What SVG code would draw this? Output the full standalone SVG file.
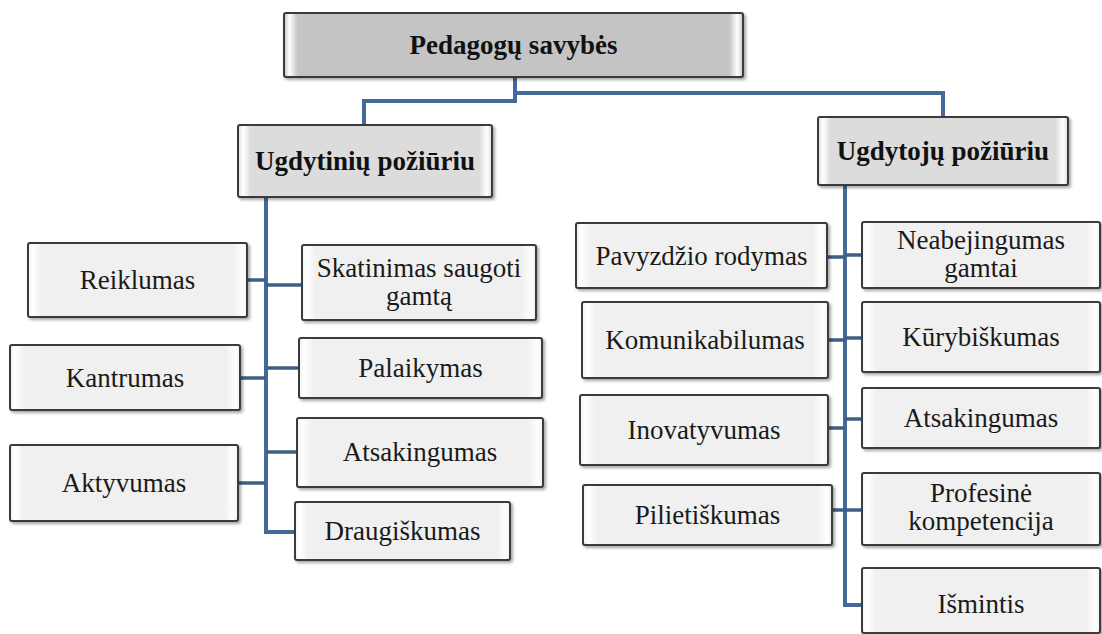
<svg xmlns="http://www.w3.org/2000/svg" width="1102" height="634" viewBox="0 0 1102 634">
<defs>
<linearGradient id="gTop" x1="0" y1="0" x2="1" y2="0">
<stop offset="0" stop-color="#c4c4c4"/><stop offset="0.012" stop-color="#ffffff"/><stop offset="0.03" stop-color="#c4c4c4"/><stop offset="0.97" stop-color="#c4c4c4"/><stop offset="0.988" stop-color="#ffffff"/><stop offset="1" stop-color="#c4c4c4"/>
</linearGradient>
<linearGradient id="gSub" x1="0" y1="0" x2="1" y2="0">
<stop offset="0" stop-color="#dcdcdc"/><stop offset="0.02" stop-color="#ffffff"/><stop offset="0.05" stop-color="#dcdcdc"/><stop offset="0.95" stop-color="#dcdcdc"/><stop offset="0.98" stop-color="#ffffff"/><stop offset="1" stop-color="#dcdcdc"/>
</linearGradient>
<linearGradient id="gLeaf" x1="0" y1="0" x2="1" y2="0">
<stop offset="0" stop-color="#f0f0f0"/><stop offset="0.02" stop-color="#ffffff"/><stop offset="0.06" stop-color="#f0f0f0"/><stop offset="0.94" stop-color="#f0f0f0"/><stop offset="0.98" stop-color="#ffffff"/><stop offset="1" stop-color="#f0f0f0"/>
</linearGradient>
<filter id="sh" x="-10%" y="-20%" width="120%" height="150%">
<feDropShadow dx="2" dy="2" stdDeviation="1.5" flood-color="#000" flood-opacity="0.35"/>
</filter>
</defs>
<style>
.box{stroke:#3a3a3a;stroke-width:2;filter:url(#sh)}
.top{fill:url(#gTop)}
.sub{fill:url(#gSub)}
.leaf{fill:url(#gLeaf)}
text{font-family:'Liberation Serif','Times New Roman','DejaVu Serif',serif}
.hd{font-weight:bold;font-size:27px;fill:#111;text-anchor:middle}
.lt{font-size:27px;fill:#1a1a1a;text-anchor:middle}
.trunk{fill:none;stroke:#44699b;stroke-width:4}
.br{fill:none;stroke:#3f5e86;stroke-width:3.5}
</style>
<rect width="1102" height="634" fill="#ffffff"/>
<g id="connectors">
<path class="trunk" d="M515,77 V101 H364 V125"/>
<path class="trunk" d="M515,77 V93 H943 V117"/>
<path class="trunk" d="M266,197 V532 H295"/>
<path class="br" d="M247,280 H266"/>
<path class="br" d="M240,378 H266"/>
<path class="br" d="M238,483 H266"/>
<path class="br" d="M266,285 H302"/>
<path class="br" d="M266,368 H299"/>
<path class="br" d="M266,452 H297"/>
<path class="trunk" d="M845,185 V605 H862"/>
<path class="br" d="M827,257 H845"/>
<path class="br" d="M828,340 H845"/>
<path class="br" d="M828,428 H845"/>
<path class="br" d="M832,510 H845"/>
<path class="br" d="M845,255 H862"/>
<path class="br" d="M845,338 H862"/>
<path class="br" d="M845,419 H862"/>
<path class="br" d="M845,510 H862"/>
</g>
<g id="n-root"><rect class="box top" x="284" y="13" width="459" height="64" rx="2"/><text class="hd" x="513.5" y="54">Pedagogų savybės</text></g>
<g id="n-ugdytiniu"><rect class="box sub" x="238" y="125" width="254" height="72" rx="2"/><text class="hd" x="365" y="170">Ugdytinių požiūriu</text></g>
<g id="n-ugdytoju"><rect class="box sub" x="818" y="117" width="250" height="68" rx="2"/><text class="hd" x="943" y="160">Ugdytojų požiūriu</text></g>
<g id="n-reiklumas"><rect class="box leaf" x="28" y="243" width="219" height="74" rx="2"/><text class="lt" x="137.5" y="289">Reiklumas</text></g>
<g id="n-kantrumas"><rect class="box leaf" x="10" y="345" width="230" height="65" rx="2"/><text class="lt" x="125" y="387">Kantrumas</text></g>
<g id="n-aktyvumas"><rect class="box leaf" x="10" y="445" width="228" height="76" rx="2"/><text class="lt" x="124" y="492">Aktyvumas</text></g>
<g id="n-skatinimas"><rect class="box leaf" x="302" y="245" width="234" height="75" rx="2"/><text class="lt" x="419" y="277">Skatinimas saugoti</text><text class="lt" x="419" y="305">gamtą</text></g>
<g id="n-palaikymas"><rect class="box leaf" x="299" y="338" width="243" height="60" rx="2"/><text class="lt" x="420.5" y="377">Palaikymas</text></g>
<g id="n-atsakingumas1"><rect class="box leaf" x="297" y="418" width="246" height="69" rx="2"/><text class="lt" x="420" y="461">Atsakingumas</text></g>
<g id="n-draugiskumas"><rect class="box leaf" x="295" y="502" width="215" height="58" rx="2"/><text class="lt" x="402.5" y="540">Draugiškumas</text></g>
<g id="n-pavyzdzio"><rect class="box leaf" x="576" y="223" width="251" height="65" rx="2"/><text class="lt" x="701.5" y="265">Pavyzdžio rodymas</text></g>
<g id="n-komunikabilumas"><rect class="box leaf" x="582" y="302" width="246" height="76" rx="2"/><text class="lt" x="705" y="349">Komunikabilumas</text></g>
<g id="n-inovatyvumas"><rect class="box leaf" x="580" y="395" width="248" height="70" rx="2"/><text class="lt" x="704" y="439">Inovatyvumas</text></g>
<g id="n-pilietiskumas"><rect class="box leaf" x="583" y="485" width="249" height="60" rx="2"/><text class="lt" x="707.5" y="524">Pilietiškumas</text></g>
<g id="n-neabejingumas"><rect class="box leaf" x="862" y="222" width="238" height="66" rx="2"/><text class="lt" x="981" y="249">Neabejingumas</text><text class="lt" x="981" y="277">gamtai</text></g>
<g id="n-kurybiskumas"><rect class="box leaf" x="862" y="302" width="238" height="70" rx="2"/><text class="lt" x="981" y="346">Kūrybiškumas</text></g>
<g id="n-atsakingumas2"><rect class="box leaf" x="862" y="388" width="238" height="60" rx="2"/><text class="lt" x="981" y="427">Atsakingumas</text></g>
<g id="n-profesine"><rect class="box leaf" x="862" y="473" width="238" height="72" rx="2"/><text class="lt" x="981" y="502">Profesinė</text><text class="lt" x="981" y="530">kompetencija</text></g>
<g id="n-ismintis"><rect class="box leaf" x="862" y="568" width="238" height="65" rx="2"/><text class="lt" x="981" y="613">Išmintis</text></g>
</svg>
